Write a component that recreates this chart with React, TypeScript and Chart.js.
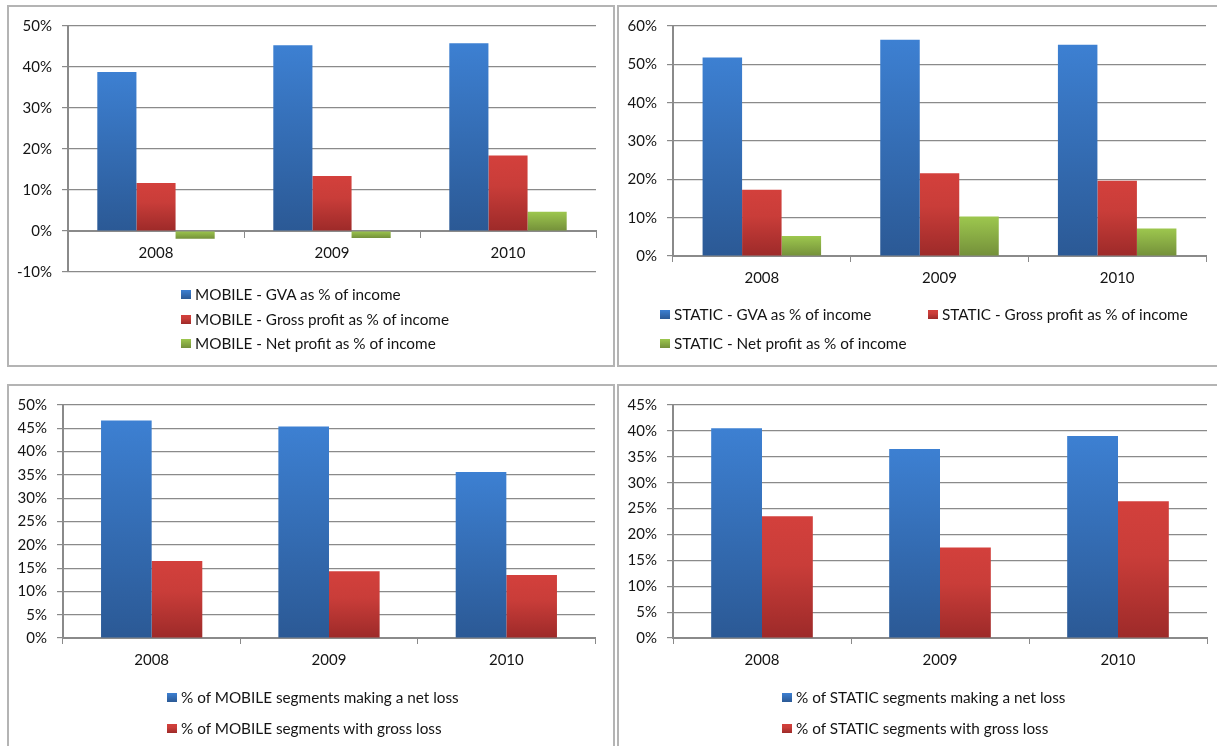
import React, { useEffect, useRef } from 'react';
import { Chart, registerables } from 'chart.js';

Chart.register(...registerables);

// ---------- data ----------
const YEARS = ['2008', '2009', '2010'];

const MOBILE_GVA = [38.8, 45.3, 45.8];
const MOBILE_GROSS = [11.7, 13.4, 18.4];
const MOBILE_NET = [-1.9, -1.7, 4.7];

const STATIC_GVA = [51.8, 56.4, 55.1];
const STATIC_GROSS = [17.3, 21.6, 19.6];
const STATIC_NET = [5.2, 10.3, 7.2];

const MOBILE_NET_LOSS_SHARE = [46.7, 45.4, 35.6];
const MOBILE_GROSS_LOSS_SHARE = [16.5, 14.3, 13.5];

const STATIC_NET_LOSS_SHARE = [40.5, 36.5, 39.0];
const STATIC_GROSS_LOSS_SHARE = [23.5, 17.5, 26.4];

const LABELS_TOP_LEFT = [
  'MOBILE - GVA as % of income',
  'MOBILE - Gross profit as % of income',
  'MOBILE - Net profit as % of income',
];
const LABELS_TOP_RIGHT = [
  'STATIC - GVA as % of income',
  'STATIC - Gross profit as % of income',
  'STATIC - Net profit as % of income',
];
const LABELS_BOTTOM_LEFT = [
  '% of MOBILE segments making a net loss',
  '% of MOBILE segments with gross loss',
];
const LABELS_BOTTOM_RIGHT = [
  '% of STATIC segments making a net loss',
  '% of STATIC segments with gross loss',
];

// ---------- styles ----------
const FONT = 'Lato, "Open Sans", sans-serif';
const TEXT = '#141414';
const GRID = '#8a8a8a';

const GRADIENTS: Record<string, [string, number][]> = {
  blue: [['#3d80d2', 0], ['#2b5995', 1]],
  red: [['#d3403c', 0], ['#c93d39', 0.4], ['#9d2a29', 1]],
  green: [['#9dc74e', 0], ['#74903a', 1]],
};

function cssGradient(kind: string) {
  const stops = GRADIENTS[kind].map(([c, p]) => `${c} ${p * 100}%`).join(', ');
  return `linear-gradient(to bottom, ${stops})`;
}

function barFill(kind: string) {
  return (ctx: any) => {
    const chart = ctx.chart;
    const y = chart.scales && chart.scales.y;
    const v = ctx.raw;
    const stops = GRADIENTS[kind];
    if (!y || v == null || !chart.chartArea) return stops[0][0];
    const top = y.getPixelForValue(Math.max(v, 0));
    const bottom = y.getPixelForValue(Math.min(v, 0));
    if (!isFinite(top) || !isFinite(bottom) || bottom - top < 0.5) return stops[stops.length - 1][0];
    const g = chart.ctx.createLinearGradient(0, top, 0, bottom);
    stops.forEach(([c, p]) => g.addColorStop(p, c));
    return g;
  };
}

type Series = { label: string; data: number[]; color: string };

function makeConfig(o: {
  series: Series[];
  min: number;
  max: number;
  step: number;
  yWidth: number;
  xHeight: number;
  padding: { left: number; top: number; right: number; bottom: number };
  xAtZero: boolean;
  catPct: number;
}) {
  const tickFont = { family: FONT, size: 15 };
  return {
    type: 'bar',
    data: {
      labels: YEARS,
      datasets: o.series.map((s) => ({
        label: s.label,
        data: s.data,
        backgroundColor: barFill(s.color),
        borderWidth: 0,
        barPercentage: 1,
        categoryPercentage: o.catPct,
      })),
    },
    options: {
      animation: false,
      responsive: false,
      maintainAspectRatio: false,
      events: [],
      layout: { padding: o.padding },
      plugins: {
        legend: { display: false },
        tooltip: { enabled: false },
        title: { display: false },
      },
      scales: {
        x: {
          position: o.xAtZero ? { y: 0 } : 'bottom',
          offset: true,
          grid: {
            display: true,
            drawOnChartArea: false,
            drawTicks: true,
            tickLength: 6,
            color: GRID,
            lineWidth: 1,
            offset: true,
          },
          border: { display: true, color: GRID, width: 2 },
          ticks: { color: TEXT, font: tickFont, padding: 7, maxRotation: 0, autoSkip: false },
          afterFit: (s: any) => {
            if (!o.xAtZero) s.height = o.xHeight;
          },
        },
        y: {
          min: o.min,
          max: o.max,
          ticks: {
            stepSize: o.step,
            callback: (v: any) => `${v}%`,
            color: TEXT,
            font: tickFont,
            padding: 10,
          },
          grid: { color: GRID, lineWidth: 1.2, tickLength: 6, drawTicks: true },
          border: { display: true, color: GRID, width: 2 },
          afterFit: (s: any) => {
            s.width = o.yWidth;
          },
        },
      },
    },
  };
}

function ChartCanvas(props: { left: number; top: number; width: number; height: number; config: any }) {
  const ref = useRef<HTMLCanvasElement | null>(null);
  useEffect(() => {
    if (!ref.current) return;
    const chart = new Chart(ref.current, props.config);
    return () => chart.destroy();
  }, []);
  return (
    <canvas
      ref={ref}
      width={props.width}
      height={props.height}
      style={{
        position: 'absolute',
        left: props.left,
        top: props.top,
        width: props.width,
        height: props.height,
      }}
    />
  );
}

type LegendItem = { label: string; color: string; x: number; y: number };

function Legend({ items }: { items: LegendItem[] }) {
  return (
    <>
      {items.map((it) => (
        <div
          key={it.label}
          style={{
            position: 'absolute',
            left: it.x,
            top: it.y - 10,
            height: 20,
            display: 'flex',
            alignItems: 'center',
            whiteSpace: 'nowrap',
            fontFamily: FONT,
            fontSize: 15.3,
            color: TEXT,
          }}
        >
          <span
            style={{
              display: 'inline-block',
              width: 10,
              height: 9,
              marginRight: 4,
              background: cssGradient(it.color),
            }}
          />
          <span>{it.label}</span>
        </div>
      ))}
    </>
  );
}

function Panel(props: { left: number; top: number; width: number; height: number }) {
  return (
    <div
      style={{
        position: 'absolute',
        left: props.left,
        top: props.top,
        width: props.width,
        height: props.height,
        boxSizing: 'border-box',
        border: '2px solid #b4b4b4',
      }}
    />
  );
}

export default function App() {
  const colors = ['blue', 'red', 'green'];

  const cfgTL = makeConfig({
    series: [MOBILE_GVA, MOBILE_GROSS, MOBILE_NET].map((d, i) => ({ label: LABELS_TOP_LEFT[i], data: d, color: colors[i] })),
    min: -10,
    max: 50,
    step: 10,
    yWidth: 59,
    xHeight: 0,
    padding: { left: 0, top: 16, right: 16, bottom: 92 },
    xAtZero: true,
    catPct: 0.667,
  });
  const cfgTR = makeConfig({
    series: [STATIC_GVA, STATIC_GROSS, STATIC_NET].map((d, i) => ({ label: LABELS_TOP_RIGHT[i], data: d, color: colors[i] })),
    min: 0,
    max: 60,
    step: 10,
    yWidth: 54,
    xHeight: 40,
    padding: { left: 0, top: 16, right: 11, bottom: 68 },
    xAtZero: false,
    catPct: 0.667,
  });
  const cfgBL = makeConfig({
    series: [MOBILE_NET_LOSS_SHARE, MOBILE_GROSS_LOSS_SHARE].map((d, i) => ({ label: LABELS_BOTTOM_LEFT[i], data: d, color: colors[i] })),
    min: 0,
    max: 50,
    step: 5,
    yWidth: 54,
    xHeight: 40,
    padding: { left: 0, top: 17, right: 17, bottom: 68 },
    xAtZero: false,
    catPct: 0.571,
  });
  const cfgBR = makeConfig({
    series: [STATIC_NET_LOSS_SHARE, STATIC_GROSS_LOSS_SHARE].map((d, i) => ({ label: LABELS_BOTTOM_RIGHT[i], data: d, color: colors[i] })),
    min: 0,
    max: 45,
    step: 5,
    yWidth: 54,
    xHeight: 40,
    padding: { left: 0, top: 17, right: 10, bottom: 68 },
    xAtZero: false,
    catPct: 0.571,
  });

  const legTL: LegendItem[] = LABELS_TOP_LEFT.map((l, i) => ({ label: l, color: colors[i], x: 181, y: [294, 319, 343][i] }));
  const legTR: LegendItem[] = [
    { label: LABELS_TOP_RIGHT[0], color: 'blue', x: 660, y: 314 },
    { label: LABELS_TOP_RIGHT[1], color: 'red', x: 928, y: 314 },
    { label: LABELS_TOP_RIGHT[2], color: 'green', x: 660, y: 343 },
  ];
  const legBL: LegendItem[] = LABELS_BOTTOM_LEFT.map((l, i) => ({ label: l, color: colors[i], x: 167, y: [697, 728][i] }));
  const legBR: LegendItem[] = LABELS_BOTTOM_RIGHT.map((l, i) => ({ label: l, color: colors[i], x: 782, y: [697, 728][i] }));

  return (
    <div
      style={{
        position: 'fixed',
        left: 0,
        top: 0,
        width: 1217,
        height: 746,
        overflow: 'hidden',
        background: '#ffffff',
      }}
    >
      <Panel left={7} top={5} width={608} height={362} />
      <Panel left={617} top={5} width={620} height={362} />
      <Panel left={7} top={384} width={608} height={380} />
      <Panel left={617} top={384} width={620} height={380} />

      <ChartCanvas left={9} top={7} width={603} height={357} config={cfgTL} />
      <ChartCanvas left={619} top={7} width={598} height={357} config={cfgTR} />
      <ChartCanvas left={9} top={386} width={603} height={360} config={cfgBL} />
      <ChartCanvas left={619} top={386} width={598} height={360} config={cfgBR} />

      <Legend items={legTL} />
      <Legend items={legTR} />
      <Legend items={legBL} />
      <Legend items={legBR} />
    </div>
  );
}
